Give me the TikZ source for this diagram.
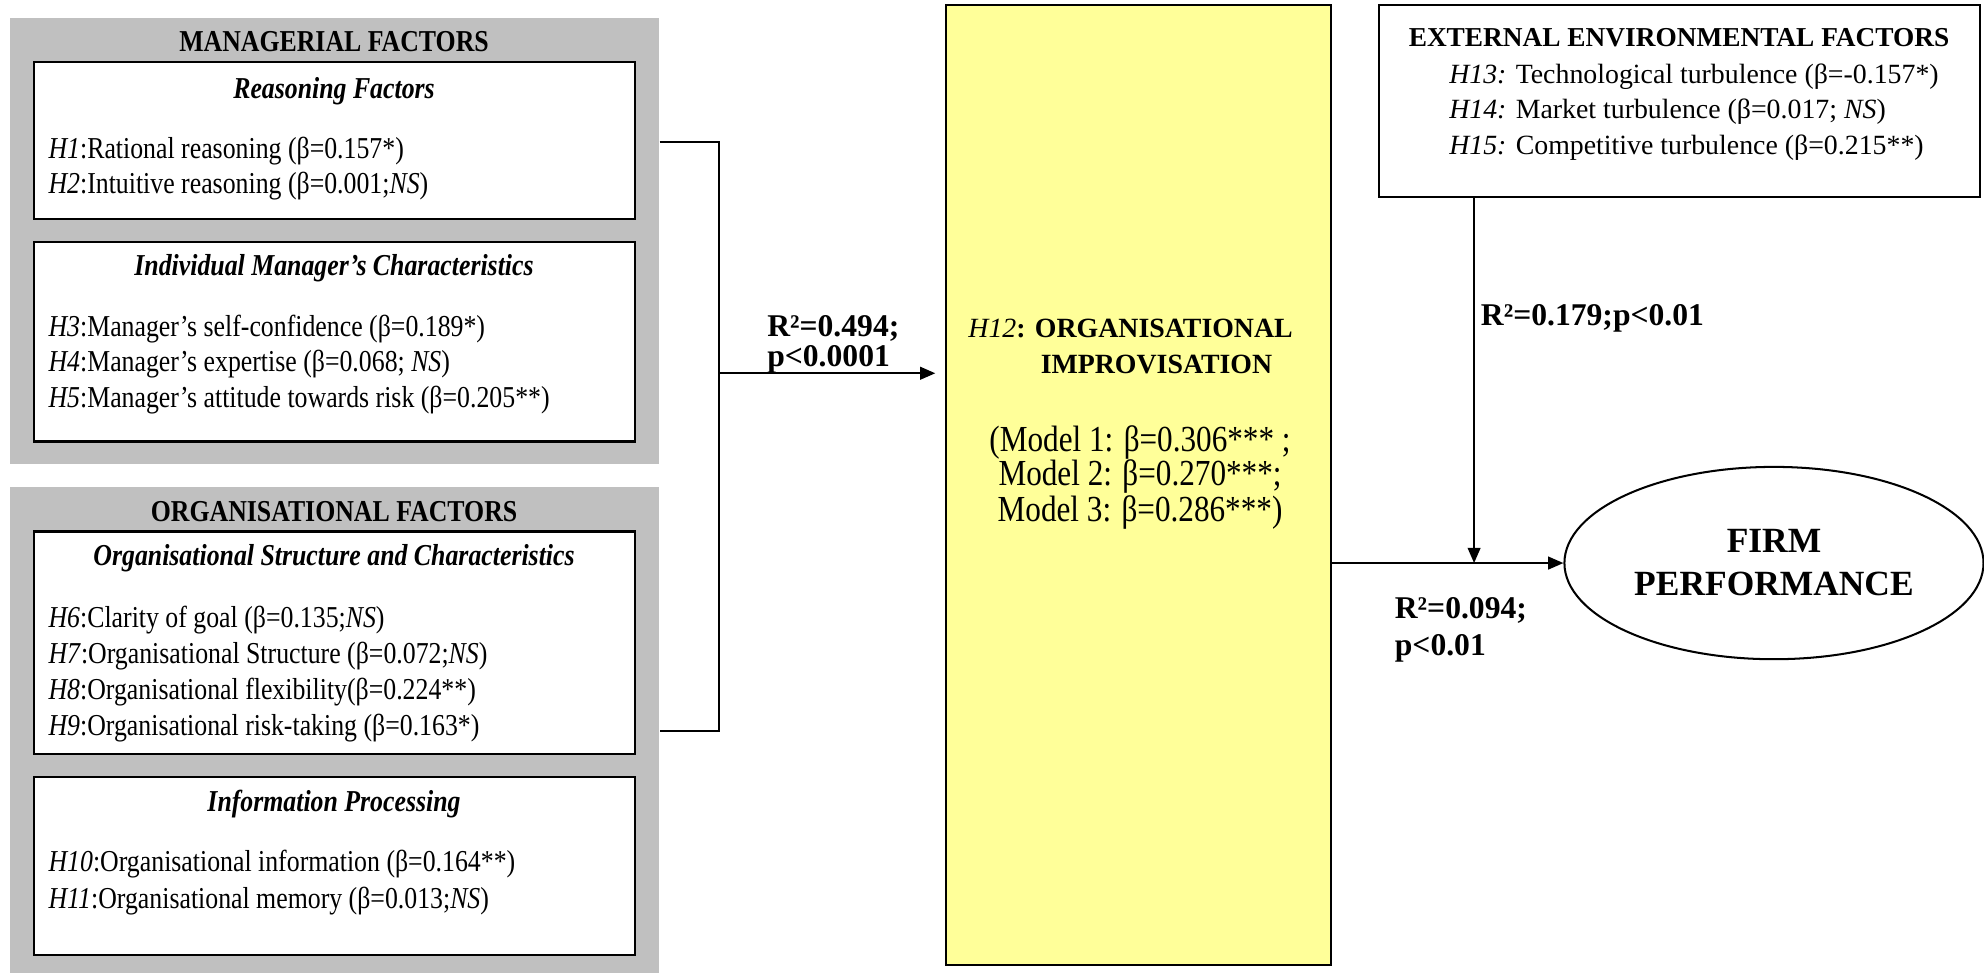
\documentclass[tikz,border=0pt]{standalone}
\usepackage{fontspec}
\setmainfont[FakeStretch=0.85]{Liberation Serif}
\newfontfamily\widefont{Liberation Serif}
\usepackage{tikz}
\usetikzlibrary{arrows.meta,shapes.geometric,fit,calc}

\definecolor{panelgray}{HTML}{C0C0C0}
\definecolor{impyellow}{HTML}{FFFF99}

\tikzset{
  panel/.style={fill=panelgray,draw=none,inner sep=0pt},
  subbox/.style={draw,fill=white,line width=0.9pt,inner sep=0pt},
  head/.style={anchor=base,inner xsep=0pt,font=\fontsize{12}{14}\selectfont\bfseries},
  subhead/.style={anchor=base,inner xsep=0pt,font=\fontsize{12}{14}\selectfont\bfseries\itshape},
  item/.style={anchor=base west,inner xsep=0pt,font=\fontsize{12}{14}\selectfont},
  extitem/.style={anchor=base west,inner xsep=0pt,font=\widefont\fontsize{11}{14}\selectfont},
  stat/.style={anchor=base west,inner xsep=0pt,font=\widefont\fontsize{12.5}{15}\selectfont\bfseries},
  model/.style={anchor=base,inner xsep=0pt,font=\fontsize{14.5}{14}\selectfont},
  link/.style={line width=0.8pt},
}

\begin{document}
\begin{tikzpicture}[x=0.5pt,y=-0.5pt,>={Triangle[length=6pt,width=5pt]}]
  \useasboundingbox (0,0) rectangle (1568,769);

  % managerial factors
  \node[panel,fit={(8,14) (521,367)}] (mgr) {};
  \node[subbox,fit={(27,49) (502,173)}] (reason) {};
  \node[subbox,fit={(27,191) (502,349)}] (indiv) {};
  \node[head] (mgrT) at (264,41) {MANAGERIAL FACTORS};
  \node[subhead] (reasonT) at (264,78) {Reasoning Factors};
  \node[item] (h1) at (38,125) {\textit{H1}:Rational reasoning (β=0.157*)};
  \node[item] (h2) at (38,153) {\textit{H2}:Intuitive reasoning (β=0.001;\textit{NS})};
  \node[subhead] (indivT) at (264,218) {Individual Manager’s Characteristics};
  \node[item] (h3) at (38,266) {\textit{H3}:Manager’s self-confidence (β=0.189*)};
  \node[item] (h4) at (38,294) {\textit{H4}:Manager’s expertise (β=0.068; \textit{NS})};
  \node[item] (h5) at (38,322) {\textit{H5}:Manager’s attitude towards risk (β=0.205**)};

  % organisational factors
  \node[panel,fit={(8,385) (521,769)}] (org) {};
  \node[subbox,fit={(27,420) (502,596)}] (orgstr) {};
  \node[subbox,fit={(27,614) (502,755)}] (info) {};
  \node[head] (orgT) at (264,412) {ORGANISATIONAL FACTORS};
  \node[subhead] (orgstrT) at (264,447) {Organisational Structure and Characteristics};
  \node[item] (h6) at (38,496) {\textit{H6}:Clarity of goal (β=0.135;\textit{NS})};
  \node[item] (h7) at (38,524) {\textit{H7}:Organisational Structure (β=0.072;\textit{NS})};
  \node[item] (h8) at (38,553) {\textit{H8}:Organisational flexibility(β=0.224**)};
  \node[item] (h9) at (38,581) {\textit{H9}:Organisational risk-taking (β=0.163*)};
  \node[subhead] (infoT) at (264,641) {Information Processing};
  \node[item] (h10) at (38,689) {\textit{H10}:Organisational information (β=0.164**)};
  \node[item] (h11) at (38,718) {\textit{H11}:Organisational memory (β=0.013;\textit{NS})};

  % organisational improvisation
  \node[draw,fill=impyellow,line width=0.8pt,inner sep=0pt,fit={(748,4) (1052,763)}] (imp) {};
  \node[anchor=base west,inner xsep=0pt,font=\widefont\fontsize{11}{14}\selectfont] (impT) at (765,267)
    {\textit{H12}\textbf{: ORGANISATIONAL}};
  \node[anchor=base,inner xsep=0pt,font=\widefont\fontsize{11}{14}\selectfont\bfseries] (impT2) at (914,295) {IMPROVISATION};
  \node[model] (m1) at (901,357) {(Model 1: β=0.306*** ;};
  \node[model] (m2) at (901,384) {Model 2: β=0.270***;};
  \node[model] (m3) at (901,412) {Model 3: β=0.286***)};

  % external environment
  \node[draw,line width=0.8pt,inner sep=0pt,fit={(1090,4) (1565,156)}] (ext) {};
  \node[anchor=base,inner xsep=0pt,font=\widefont\fontsize{10.8}{14}\selectfont\bfseries] (extT) at (1327,37)
    {EXTERNAL ENVIRONMENTAL FACTORS};
  \node[extitem] (h13) at (1145,66) {\textit{H13:} Technological turbulence (β=-0.157*)};
  \node[extitem] (h14) at (1145,94) {\textit{H14:} Market turbulence (β=0.017; \textit{NS})};
  \node[extitem] (h15) at (1145,122) {\textit{H15:} Competitive turbulence (β=0.215**)};

  % firm performance
  \node[draw,ellipse,line width=0.8pt,minimum width=162.5pt,minimum height=76pt,
    align=center,font=\widefont\fontsize{14}{17}\selectfont\bfseries] (firm) at (1402,445)
    {FIRM\\PERFORMANCE};

  % connectors
  \coordinate (jtop) at (568,112);
  \coordinate (jbot) at (568,578);
  \coordinate (jmid) at (568,295);
  \coordinate (drop) at (1165,445);
  \draw[link] (mgr.east |- jtop) -- (jtop) -- (jbot) -- (org.east |- jbot);
  \draw[link,->,shorten >=4pt] (jmid) -- (jmid -| imp.west);
  \draw[link,->] (imp.east |- drop) -- (firm.west);
  \draw[link,->] (ext.south -| drop) -- (drop);

  % fit statistics
  \node[stat] (r1) at (606,266) {R²=0.494;};
  \node[stat] (p1) at (606,290) {p<0.0001};
  \node[stat] (r2) at (1170,257) {R²=0.179;p<0.01};
  \node[stat] (r3) at (1102,489) {R²=0.094;};
  \node[stat] (p3) at (1102,518) {p<0.01};
\end{tikzpicture}
\end{document}
